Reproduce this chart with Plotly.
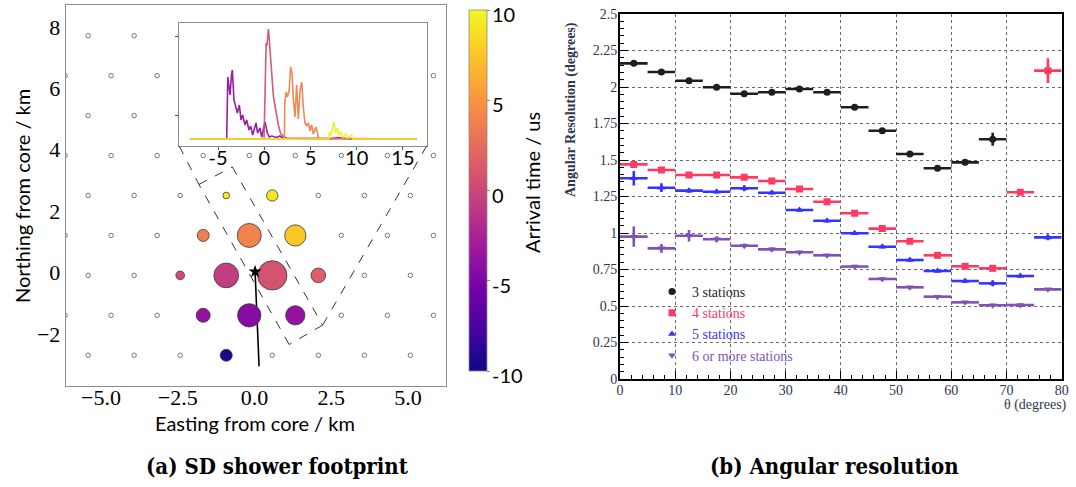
import plotly.graph_objects as go
from plotly.colors import sample_colorscale

W, H = 1076, 487

# ---------------- surface detector array (km from shower core) ----------------
row_northing = [-2.69, -1.39, -0.09, 1.21, 2.51, 3.81, 5.11, 6.41, 7.71]
row_parity = ["even", "odd", "even", "odd", "even", "odd", "even", "odd", "even"]
even_row_easting = [-5.42, -3.92, -2.42, -0.92, 0.58, 2.08, 3.58, 5.08]
odd_row_easting = [-6.17, -4.67, -3.17, -1.67, -0.17, 1.33, 2.83, 4.33, 5.83]

# triggered stations
hit_easting = [-0.92, 0.58, -1.67, -0.17, 1.33, -2.42, -0.92, 0.58, 2.08, -1.67, -0.17, 1.33, -0.92]
hit_northing = [2.51, 2.51, 1.21, 1.21, 1.21, -0.09, -0.09, -0.09, -0.09, -1.39, -1.39, -1.39, -2.69]
hit_time_us = [9.6, 9.2, 3.6, 3.9, 7.6, 0.4, -0.6, 0.8, 1.6, -3.8, -4.4, -3.8, -9.4]
hit_signal = [11, 32, 36, 144, 113, 19, 153, 215, 54, 49, 136, 93, 36]

# shower core and projected shower axis
core_easting = [0.02]
core_northing = [0.03]
axis_easting = [0.02, 0.15]
axis_northing = [0.03, -3.05]

# colour scale for arrival time (us)
time_min, time_max = -10, 10
time_ticks = [-10, -5, 0, 5, 10]
time_tick_text = ["-10", "-5", "0", "5", "10"]

# ---------------- traces of the stations inside the dashed strip ----------------
trace_station_time = [-3.8, 0.8, 3.9, 9.6]
purple_t = [-8.0, -4.07, -3.95, -3.85, -3.71, -3.55, -3.46, -3.28, -3.10, -2.92, -2.70, -2.52,
            -2.34, -2.09, -1.91, -1.66, -1.48, -1.26, -0.90, -0.72, -0.47, -0.28, 0.08, 0.33,
            0.54, 0.80, 1.34, 1.70, 2.06, 7.1, 8.0, 9.1, 16.5]
purple_s = [0, 0, 6.2, 5.5, 4.4, 6.4, 6.9, 3.9, 3.1, 2.6, 3.4, 1.9,
            2.4, 1.4, 1.9, 0.9, 1.3, 0.4, 1.6, 0.6, 1.1, 0.2, 1.7, 0.6,
            0.2, 0.3, 0.15, 0.3, 0.05, 0, 0.15, 0, 0]
red_t = [-8.0, -0.03, 0.08, 0.20, 0.28, 0.36, 0.44, 0.52, 0.62, 0.72, 0.85, 0.98,
         1.16, 1.34, 1.52, 1.75, 2.0, 2.4, 16.5]
red_s = [0, 0, 4.5, 9.6, 9.3, 10.4, 11.0, 10.2, 8.8, 7.6, 5.8, 4.3,
         3.3, 2.2, 1.4, 0.6, 0.3, 0.1, 0]
orange_t = [-8.0, 2.17, 2.22, 2.35, 2.50, 2.70, 2.85, 3.00, 3.15, 3.32, 3.50, 3.68,
            3.86, 4.05, 4.22, 4.40, 4.59, 4.77, 4.95, 5.13, 5.30, 5.60, 5.85, 6.00, 16.5]
orange_s = [0, 0, 3.6, 4.7, 4.2, 4.9, 7.2, 6.6, 3.9, 2.2, 5.4, 2.0,
            4.8, 5.7, 3.2, 1.6, 1.3, 1.6, 0.8, 1.4, 0.5, 1.2, 0.2, 0, 0]
yellow_t = [-8.0, 7.00, 7.04, 7.20, 7.54, 7.70, 7.90, 8.08, 8.27, 8.50, 8.84, 9.00,
            9.46, 9.60, 16.5]
yellow_s = [0, 0, 0.7, 0.3, 1.7, 0.6, 1.1, 0.4, 0.7, 0.2, 0.5, 0.1, 0.4, 0, 0]

# ---------------- angular resolution vs zenith angle ----------------
theta_center = [2.5, 7.5, 12.5, 17.5, 22.5, 27.5, 32.5, 37.5,
                42.5, 47.5, 52.5, 57.5, 62.5, 67.5, 72.5, 77.5]
theta_half_bin = [2.5] * 16
res_3 = [2.162, 2.103, 2.043, 1.998, 1.954, 1.964, 1.986, 1.964,
         1.861, 1.700, 1.541, 1.443, 1.484, 1.642]
err_3 = [0.012, 0.010, 0.012, 0.010, 0.012, 0.012, 0.012, 0.012,
         0.012, 0.012, 0.012, 0.015, 0.020, 0.045]
res_4 = [1.470, 1.432, 1.397, 1.397, 1.381, 1.356, 1.301, 1.214,
         1.135, 1.030, 0.943, 0.847, 0.772, 0.758, 1.279, 2.112]
err_4 = [0.015, 0.010, 0.010, 0.010, 0.010, 0.012, 0.012, 0.012,
         0.012, 0.012, 0.012, 0.015, 0.012, 0.012, 0.020, 0.085]
res_5 = [1.375, 1.310, 1.290, 1.283, 1.306, 1.276, 1.158, 1.084,
         0.998, 0.906, 0.815, 0.740, 0.671, 0.655, 0.705, 0.970]
err_5 = [0.050, 0.030, 0.015, 0.012, 0.020, 0.012, 0.012, 0.012,
         0.012, 0.012, 0.012, 0.010, 0.012, 0.020, 0.012, 0.020]
res_6 = [0.975, 0.895, 0.981, 0.957, 0.913, 0.888, 0.868, 0.847,
         0.770, 0.685, 0.628, 0.564, 0.525, 0.505, 0.507, 0.614]
err_6 = [0.070, 0.030, 0.040, 0.020, 0.015, 0.015, 0.012, 0.010,
         0.012, 0.012, 0.010, 0.010, 0.010, 0.010, 0.010, 0.010]

series_names = ["3 stations", "4 stations", "5 stations", "6 or more stations"]
series_res = [res_3, res_4, res_5, res_6]
series_err = [err_3, err_4, err_5, err_6]
series_colors = ["#1e1e1e", "#ff3a62", "#3434ff", "#8052b8"]
series_symbols = ["circle", "square", "triangle-up", "triangle-down"]

res_y_ticks = [0, 0.25, 0.5, 0.75, 1, 1.25, 1.5, 1.75, 2, 2.25, 2.5]
res_y_text = ["0", "0.25", "0.5", "0.75", "1", "1.25", "1.5", "1.75", "2", "2.25", "2.5"]


def px_x(p):
    return p / W


def px_y(p):
    return 1 - p / H


SANS = "Lato"
SERIF = "Liberation Serif"
CAPTION = "DejaVu Serif Condensed, Liberation Serif"
AXIS_BLUE = "#303650"

# colour bar placement (pixels)
CB_LEFT, CB_TOP, CB_BOTTOM, CB_THICK = 469.3, 10.0, 371.0, 18.4

fig = go.Figure()

# --- open circles: all detector positions ---
grid_x, grid_y = [], []
for yn, parity in zip(row_northing, row_parity):
    for xe in (even_row_easting if parity == "even" else odd_row_easting):
        grid_x.append(xe)
        grid_y.append(yn)
fig.add_trace(go.Scatter(
    x=grid_x, y=grid_y, mode="markers", showlegend=False, hoverinfo="skip",
    marker=dict(size=4.5, color="white", line=dict(color="#666666", width=0.9)),
    xaxis="x", yaxis="y"))

# --- projected shower axis ---
fig.add_trace(go.Scatter(
    x=axis_easting, y=axis_northing, mode="lines", showlegend=False,
    line=dict(color="black", width=1.6), xaxis="x", yaxis="y"))

# --- triggered stations, coloured by arrival time ---
hit_diam = [2.0 * s ** 0.5 for s in hit_signal]
fig.add_trace(go.Scatter(
    x=hit_easting, y=hit_northing, mode="markers", showlegend=False,
    marker=dict(size=hit_diam, color=hit_time_us, colorscale="Plasma",
                cmin=time_min, cmax=time_max,
                opacity=1, line=dict(color="#3a3a3a", width=0.8),
                colorbar=dict(
                    x=px_x(CB_LEFT), xanchor="left", xpad=0, ypad=0,
                    y=px_y((CB_TOP + CB_BOTTOM) / 2), yanchor="middle",
                    thickness=CB_THICK, thicknessmode="pixels",
                    len=(CB_BOTTOM - CB_TOP) / H, lenmode="fraction",
                    outlinecolor="#8a8a8a", outlinewidth=0.8,
                    tickvals=time_ticks, showticklabels=False,
                    ticks="outside", ticklen=3, tickcolor="#8a8a8a")),
    xaxis="x", yaxis="y"))

# --- shower core ---
fig.add_trace(go.Scatter(
    x=core_easting, y=core_northing, mode="markers", showlegend=False,
    marker=dict(symbol="star", size=10, color="black"), xaxis="x", yaxis="y"))

# --- inset: signal traces ---
trace_cols = sample_colorscale("Plasma", [(t - time_min) / (time_max - time_min)
                                          for t in trace_station_time])
for tx, sy, col in zip([purple_t, red_t, orange_t, yellow_t],
                       [purple_s, red_s, orange_s, yellow_s], trace_cols):
    fig.add_trace(go.Scatter(
        x=tx, y=sy, mode="lines", showlegend=False, hoverinfo="skip",
        line=dict(color=col, width=1.6), opacity=0.95, xaxis="x2", yaxis="y2"))

# --- right panel: angular resolution ---
for i, (name, res, err, col, sym) in enumerate(zip(series_names, series_res, series_err,
                                                  series_colors, series_symbols)):
    n = len(res)
    fig.add_trace(go.Scatter(
        x=theta_center[:n], y=res, mode="markers",
        name=f"<span style='color:{col}'>{name}</span>",
        legendgroup=f"g{i}",
        marker=dict(symbol=sym, size=7, color=col),
        error_x=dict(type="data", array=theta_half_bin[:n], color=col, thickness=2.6, width=0),
        error_y=dict(type="data", array=err, color=col, thickness=2.6, width=0),
        xaxis="x3", yaxis="y3"))

# dashed strip selected for the inset, and its connectors (km)
strip = [(-1.81, 2.87), (-0.72, 3.44), (2.22, -1.71), (1.13, -2.34)]
inset_corners = [(-2.45, 4.12), (5.61, 4.12)]
dash_line = dict(color="#333333", width=1, dash="dash")
shapes = []
for a, b in zip(strip, strip[1:] + strip[:1]):
    shapes.append(dict(type="line", xref="x", yref="y", x0=a[0], y0=a[1], x1=b[0], y1=b[1],
                       line=dash_line))
for a, b in [(inset_corners[0], strip[0]), (inset_corners[1], strip[2])]:
    shapes.append(dict(type="line", xref="x", yref="y", x0=a[0], y0=a[1], x1=b[0], y1=b[1],
                       line=dash_line))

gray_frame = dict(showline=True, mirror=True, linecolor="#8c8c8c", linewidth=1,
                  showgrid=False, zeroline=False, automargin=False)
root_axis = dict(ticks="inside", ticklen=8, tickcolor="black", tickwidth=1,
                 showgrid=True, gridcolor="#6a6a6a", griddash="dot", gridwidth=1,
                 showline=True, mirror=True, linecolor="black", linewidth=2, zeroline=False,
                 automargin=False, tickfont=dict(family=SERIF, size=14, color=AXIS_BLUE))


def label(text, x, y, size, family, color="black", angle=0, xanchor="center"):
    return dict(text=text, x=px_x(x), y=px_y(y), xref="paper", yref="paper",
                xanchor=xanchor, yanchor="middle", textangle=angle, showarrow=False,
                font=dict(family=family, size=size, color=color))


# colour bar tick labels, placed along the bar from the tick values
cb_labels = []
for v, txt in zip(time_ticks, time_tick_text):
    ypix = CB_TOP + (time_max - v) / (time_max - time_min) * (CB_BOTTOM - CB_TOP) + 4
    cb_labels.append(label(txt, 490, ypix, 20, SANS, xanchor="left"))

fig.update_layout(
    template="none",
    width=W, height=H, margin=dict(l=0, r=0, t=0, b=0, autoexpand=False),
    paper_bgcolor="white", plot_bgcolor="white",
    font=dict(family=SANS),
    shapes=shapes,
    xaxis=dict(domain=[px_x(65.7), px_x(445.7)], range=[-6.15, 6.23], anchor="y",
               tickvals=[-5, -2.5, 0, 2.5, 5], ticktext=["−5.0", "−2.5", "0.0", "2.5", "5.0"],
               ticks="", ticklabelstandoff=-8,
               tickfont=dict(family=SERIF, size=22, color="black"), **gray_frame),
    yaxis=dict(domain=[px_y(386), px_y(5)], range=[-3.69, 8.71], anchor="x",
               tickvals=[-2, 0, 2, 4, 6, 8], ticktext=["−2", "0", "2", "4", "6", "8"],
               ticks="", tickfont=dict(family=SERIF, size=22, color="black"), **gray_frame),
    xaxis2=dict(domain=[px_x(179.3), px_x(426.7)], range=[-9.2, 17.58], anchor="y2",
                tickvals=[-5, 0, 5, 10, 15], ticktext=["-5", "0", "5", "10", "15"],
                ticks="outside", ticklen=3, tickcolor="#555", ticklabelstandoff=-9,
                tickfont=dict(family=SANS, size=20, color="black"), **gray_frame),
    yaxis2=dict(domain=[px_y(146), px_y(23.3)], range=[-0.7, 11.57], anchor="x2",
                tickvals=[2.4, 10.3], showticklabels=False,
                ticks="outside", ticklen=3, tickcolor="#555", **gray_frame),
    xaxis3=dict(domain=[px_x(620), px_x(1061.7)], range=[0, 80], anchor="y3",
                tickvals=[0, 10, 20, 30, 40, 50, 60, 70, 80], ticklabelstandoff=-3,
                minor=dict(dtick=2, ticks="inside", ticklen=4, tickcolor="black", showgrid=False),
                **root_axis),
    yaxis3=dict(domain=[px_y(379), px_y(14)], range=[0, 2.5], anchor="x3",
                tickvals=res_y_ticks, ticktext=res_y_text, ticklabelstandoff=-2,
                minor=dict(dtick=0.05, ticks="inside", ticklen=4, tickcolor="black", showgrid=False),
                **root_axis),
    legend=dict(x=px_x(652), y=px_y(276), xanchor="left", yanchor="top",
                bgcolor="rgba(0,0,0,0)", borderwidth=0, tracegroupgap=0,
                font=dict(family=SERIF, size=14), itemwidth=30),
    annotations=cb_labels + [
        label("Northing from core / km", 22, 196, 20, SANS, angle=-90),
        label("Easting from core / km", 255, 423, 20, SANS),
        label("Arrival time / us", 532, 183, 20, SANS, angle=-90),
        label("<b>Angular Resolution (degrees)</b>", 571, 110, 14, SERIF, AXIS_BLUE, angle=-90),
        label("θ (degrees)", 1069, 405, 14, SERIF, AXIS_BLUE, xanchor="right"),
        label("<b>(a) SD shower footprint</b>", 277, 466, 22, CAPTION),
        label("<b>(b) Angular resolution</b>", 834, 466, 22, CAPTION),
    ],
)

fig.write_html("out.html")
